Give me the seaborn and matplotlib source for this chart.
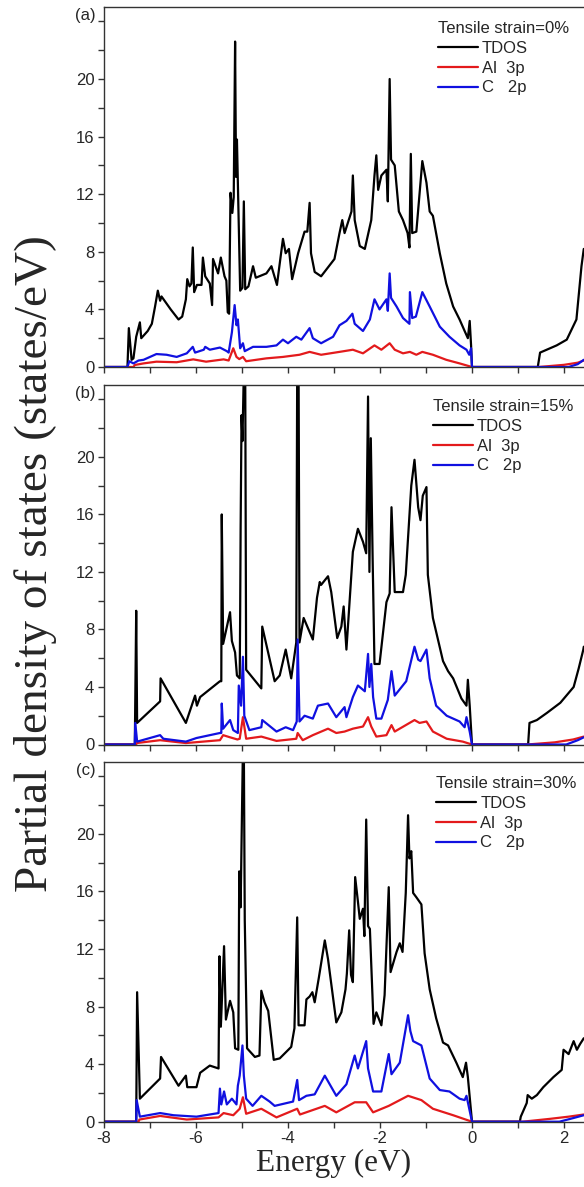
import numpy as np
import pandas as pd
import matplotlib
matplotlib.use("Agg")
import matplotlib.pyplot as plt
from matplotlib.ticker import MultipleLocator
import seaborn as sns

# Partielle Zustandsdichte fuer drei Dehnungen
strain_titles = ["Tensile strain=0%", "Tensile strain=15%", "Tensile strain=30%"]
panel_tags = ["(a)", "(b)", "(c)"]
series_labels = ["TDOS", "Al  3p", "C   2p"]

# ---- (a) 0 % ----
e_a_tdos = [-8.00, -7.49, -7.46, -7.40, -7.36, -7.30, -7.22, -7.19,
            -7.05, -6.96, -6.89, -6.83, -6.78, -6.75, -6.55, -6.38,
            -6.30, -6.22, -6.19, -6.14, -6.10, -6.07, -6.04, -5.98,
            -5.88, -5.85, -5.80, -5.70, -5.65, -5.63, -5.52, -5.46, -5.38,
            -5.34, -5.31, -5.28, -5.25, -5.21, -5.18, -5.15, -5.13, -5.11,
            -5.04, -4.99, -4.96, -4.93, -4.86, -4.76, -4.70, -4.47,
            -4.36, -4.24, -4.11, -4.05, -3.98, -3.91, -3.78, -3.64,
            -3.58, -3.53, -3.50, -3.42, -3.28, -2.99, -2.88, -2.82,
            -2.77, -2.62, -2.59, -2.55, -2.44, -2.33, -2.19, -2.12,
            -2.08, -2.04, -1.97, -1.86, -1.83, -1.79, -1.76, -1.68,
            -1.59, -1.50, -1.40, -1.36, -1.33, -1.30, -1.21, -1.08,
            -0.99, -0.92, -0.85, -0.70, -0.56, -0.41, -0.27, -0.16,
            -0.09, -0.05, -0.02, 0.00, 1.43, 1.48, 1.84, 2.06, 2.27, 2.38, 2.43]
a_tdos = [0, 0, 2.7, 0.5, 0.6, 2.1, 3.1, 2.0,
          2.5, 3.0, 4.2, 5.3, 4.6, 4.9, 4.0, 3.3,
          3.5, 4.7, 6.1, 5.6, 5.8, 8.3, 5.2, 5.7,
          5.7, 7.6, 6.3, 5.8, 4.3, 7.5, 6.5, 7.6, 6.3,
          6.0, 3.8, 3.7, 12.1, 10.7, 11.8, 22.6, 13.2, 15.8,
          5.3, 5.5, 11.5, 5.4, 5.6, 7.0, 6.2, 6.5,
          7.0, 5.7, 8.9, 7.9, 8.2, 6.1, 7.9, 9.4,
          9.4, 11.4, 7.9, 6.6, 6.3, 7.5, 9.3, 10.2,
          9.3, 10.8, 13.3, 10.2, 8.4, 8.2, 10.2, 13.3,
          14.7, 12.3, 13.3, 13.7, 11.5, 20.0, 14.4, 14.0,
          10.8, 10.2, 9.3, 8.3, 14.8, 9.3, 9.4, 14.3,
          12.8, 10.8, 10.5, 7.9, 5.8, 4.2, 3.3, 2.5,
          2.0, 3.2, 1.5, 0, 0, 1.0, 1.5, 1.9, 3.3, 7.0, 8.2]

e_a_al = [-8.00, -7.36, -7.33, -7.14, -6.86, -6.42, -6.06, -5.78,
          -5.40, -5.29, -5.19, -5.12, -5.06, -4.98, -4.91, -4.47,
          -4.11, -3.75, -3.53, -3.28, -2.88, -2.59, -2.37, -2.12,
          -1.97, -1.79, -1.68, -1.50, -1.35, -1.21, -1.08, -0.85,
          -0.56, -0.27, 0.00, 1.45, 2.00, 2.30, 2.43]
a_al = [0, 0, 0.14, 0.25, 0.37, 0.33, 0.53, 0.37,
        0.53, 0.45, 1.3, 0.7, 0.55, 0.7, 0.4, 0.6,
        0.7, 0.85, 1.05, 0.85, 1.05, 1.2, 0.95, 1.5,
        1.2, 1.65, 1.2, 0.95, 1.05, 0.85, 1.05, 0.85,
        0.5, 0.25, 0, 0, 0.15, 0.3, 0.45]

e_a_c = [-8.00, -7.49, -7.45, -7.36, -7.25, -7.14, -6.86, -6.64, -6.42,
         -6.20, -6.07, -6.02, -5.83, -5.80, -5.70, -5.48, -5.33, -5.29,
         -5.22, -5.16, -5.12, -5.09, -5.04, -4.98, -4.94, -4.76,
         -4.47, -4.25, -4.11, -4.00, -3.82, -3.71, -3.53, -3.46,
         -3.28, -3.02, -2.88, -2.73, -2.60, -2.55, -2.37, -2.22,
         -2.12, -2.01, -1.86, -1.83, -1.79, -1.76, -1.64, -1.50,
         -1.36, -1.35, -1.30, -1.22, -1.08, -0.92, -0.70, -0.49,
         -0.27, -0.12, -0.06, -0.02, 0.00, 2.10, 2.30, 2.43]
a_c = [0, 0, 0.4, 0.25, 0.45, 0.5, 0.9, 0.85, 0.7,
       0.95, 1.4, 1.0, 1.2, 1.4, 1.2, 1.35, 1.1, 1.0,
       2.4, 4.3, 2.9, 3.3, 1.3, 1.65, 1.1, 1.4,
       1.4, 1.5, 1.9, 1.65, 2.1, 1.9, 2.7, 2.0,
       1.65, 2.1, 2.9, 3.2, 3.7, 3.0, 2.5, 3.3,
       4.7, 4.0, 4.7, 3.9, 6.5, 4.8, 4.2, 3.4,
       3.0, 5.2, 3.4, 3.5, 5.2, 4.2, 2.8, 2.1,
       1.5, 1.2, 0.85, 1.3, 0, 0, 0.2, 0.5]

# ---- (b) 15 % ----
e_b_tdos = [-8.00, -7.33, -7.30, -7.28, -6.78, -6.77, -6.22, -6.02, -5.98, -5.91,
            -5.48, -5.45, -5.44, -5.41, -5.26, -5.22, -5.15, -5.11, -5.05,
            -5.04, -5.03, -5.01, -4.99, -4.96, -4.93, -4.91, -4.58, -4.56,
            -4.29, -4.18, -4.05, -3.93, -3.82, -3.80, -3.77, -3.75, -3.66,
            -3.46, -3.37, -3.31, -3.28, -3.13, -3.06, -2.93, -2.84, -2.79,
            -2.73, -2.59, -2.48, -2.37, -2.30, -2.26, -2.23, -2.20, -2.16,
            -2.12, -2.01, -1.86, -1.79, -1.75, -1.68, -1.50, -1.44, -1.32,
            -1.25, -1.17, -1.12, -1.07, -0.99, -0.96, -0.85, -0.63, -0.52,
            -0.41, -0.23, -0.12, -0.09, -0.05, 0.00, 1.22, 1.25, 1.41, 1.63,
            1.92, 2.21, 2.32, 2.42, 2.43]
b_tdos = [0, 0, 9.3, 1.5, 3.0, 4.6, 1.5, 3.4, 2.7, 3.3,
          4.4, 4.4, 16.0, 7.0, 9.2, 7.2, 6.4, 4.8, 4.6,
          9.1, 15.0, 22.9, 21.1, 26.0, 26.0, 5.2, 3.9, 8.2,
          4.4, 4.8, 6.6, 4.6, 7.1, 26.0, 26.0, 7.1, 8.8,
          7.3, 10.2, 11.3, 11.1, 11.7, 10.6, 7.4, 8.2, 9.6,
          6.6, 13.4, 15.0, 14.1, 13.3, 24.2, 12.0, 21.3, 12.9,
          5.6, 5.6, 9.9, 10.5, 16.5, 10.6, 10.6, 11.8, 18.0,
          19.8, 16.5, 15.6, 17.3, 17.9, 11.8, 8.8, 5.8, 5.1,
          4.6, 3.2, 2.7, 4.5, 2.7, 0, 0, 1.5, 1.7, 2.2,
          2.9, 4.0, 5.3, 6.6, 6.8]

e_b_al = [-8.00, -7.30, -7.29, -6.78, -6.22, -5.48, -5.41, -5.26, -5.10,
          -5.05, -4.98, -4.91, -4.58, -4.25, -3.82, -3.79, -3.68, -3.46,
          -3.13, -2.95, -2.77, -2.59, -2.37, -2.26, -2.19, -2.08, -1.86,
          -1.75, -1.68, -1.25, -1.14, -0.99, -0.85, -0.55, -0.20, 0.00,
          1.20, 1.80, 2.20, 2.43]
b_al = [0, 0, 0.1, 0.3, 0.1, 0.3, 0.65, 0.5, 0.35,
        0.4, 1.9, 0.4, 0.55, 0.25, 0.4, 0.8, 0.3, 0.65,
        1.1, 0.8, 0.9, 1.1, 1.25, 1.9, 1.25, 0.55, 0.65,
        1.35, 0.9, 1.7, 1.5, 1.6, 0.9, 0.4, 0.2, 0,
        0, 0.15, 0.35, 0.55]

e_b_c = [-8.00, -7.33, -7.32, -7.28, -6.78, -6.71, -6.22, -5.99, -5.48,
         -5.45, -5.44, -5.41, -5.26, -5.19, -5.09, -5.07, -5.02, -4.98,
         -4.95, -4.84, -4.58, -4.56, -4.25, -4.05, -3.89, -3.81, -3.79,
         -3.75, -3.64, -3.46, -3.35, -3.13, -2.95, -2.77, -2.73, -2.59,
         -2.48, -2.33, -2.26, -2.23, -2.19, -2.15, -2.08, -1.97, -1.83,
         -1.75, -1.68, -1.43, -1.25, -1.17, -1.12, -0.99, -0.92, -0.78,
         -0.55, -0.27, -0.16, -0.12, -0.05, 0.00, 2.05, 2.30, 2.43]
b_c = [0, 0, 1.5, 0.2, 0.65, 0.4, 0.2, 0.45, 0.8,
       0.8, 2.85, 1.1, 1.7, 1.0, 0.8, 4.1, 2.7, 6.1,
       2.0, 1.0, 1.2, 1.7, 0.9, 1.2, 1.0, 1.6, 7.3,
       1.6, 2.0, 1.8, 2.7, 2.85, 1.9, 2.6, 1.9, 3.3,
       4.1, 3.7, 6.3, 4.0, 5.6, 3.3, 1.8, 1.8, 3.1,
       5.1, 3.4, 4.4, 6.8, 5.9, 5.8, 6.6, 4.6, 2.7,
       2.0, 1.6, 1.2, 1.9, 0.9, 0, 0, 0.3, 0.5]

# ---- (c) 30 % ----
e_c_tdos = [-8.00, -7.30, -7.28, -7.22, -6.78, -6.76, -6.38, -6.22, -6.19,
            -5.99, -5.91, -5.70, -5.51, -5.49, -5.46, -5.39, -5.35, -5.26,
            -5.19, -5.15, -5.08, -5.06, -5.03, -5.00, -4.98, -4.96, -4.94,
            -4.89, -4.72, -4.62, -4.58, -4.51, -4.43, -4.31, -4.18, -3.93,
            -3.86, -3.80, -3.77, -3.64, -3.60, -3.53, -3.47, -3.42, -3.33,
            -3.20, -3.13, -2.95, -2.84, -2.75, -2.72, -2.67, -2.63, -2.59,
            -2.54, -2.48, -2.44, -2.37, -2.34, -2.30, -2.26, -2.22, -2.14,
            -2.08, -1.97, -1.90, -1.81, -1.77, -1.64, -1.57, -1.51, -1.44,
            -1.39, -1.36, -1.32, -1.28, -1.21, -1.10, -1.03, -0.92, -0.78,
            -0.63, -0.52, -0.34, -0.20, -0.13, -0.09, 0.00, 1.04, 1.06, 1.19,
            1.21, 1.30, 1.41, 1.55, 1.77, 1.95, 1.99, 2.10, 2.21, 2.28, 2.35, 2.43]
c_tdos = [0, 0, 9.0, 1.6, 3.0, 4.5, 2.5, 3.2, 2.4,
          2.4, 3.4, 3.9, 3.7, 11.5, 6.6, 12.2, 7.1, 8.4,
          7.6, 5.1, 5.0, 17.4, 14.9, 21.6, 26.0, 26.0, 14.0,
          5.1, 4.5, 4.6, 9.1, 8.3, 7.7, 4.3, 4.4, 5.2,
          6.5, 14.2, 6.7, 6.7, 8.5, 8.7, 9.0, 8.3, 10.0,
          12.6, 11.3, 6.9, 7.6, 9.2, 10.3, 13.3, 10.2, 9.7,
          17.0, 15.3, 14.1, 14.8, 12.9, 21.0, 13.6, 13.4, 6.8,
          7.6, 6.7, 8.8, 16.3, 10.4, 11.8, 12.4, 11.8, 15.9,
          21.3, 18.3, 18.8, 15.9, 15.6, 15.1, 11.7, 9.2, 7.2,
          5.5, 5.3, 4.1, 3.1, 4.1, 3.1, 0, 0, 0.35, 1.3,
          1.85, 1.6, 1.85, 2.4, 3.1, 3.6, 5.0, 4.7, 5.6, 5.0, 5.4, 5.8]

e_c_al = [-8.00, -7.25, -7.23, -6.78, -6.20, -5.51, -5.40, -5.19, -5.05,
          -4.98, -4.91, -4.58, -4.25, -3.80, -3.74, -3.20, -2.95, -2.55,
          -2.30, -2.15, -1.81, -1.39, -1.10, -0.85, -0.41, 0.00, 1.10,
          1.70, 2.10, 2.43]
c_al = [0, 0, 0.15, 0.4, 0.15, 0.3, 0.6, 0.45, 0.9,
        1.7, 0.55, 0.9, 0.3, 0.9, 0.5, 1.1, 0.65, 1.35,
        1.35, 0.65, 1.1, 1.8, 1.5, 0.9, 0.45, 0, 0,
        0.2, 0.35, 0.5]

e_c_c = [-8.00, -7.30, -7.29, -7.22, -6.78, -6.49, -5.99, -5.51, -5.48,
         -5.45, -5.39, -5.33, -5.22, -5.12, -5.09, -5.05, -4.99, -4.96,
         -4.91, -4.77, -4.58, -4.40, -4.29, -3.89, -3.80, -3.76, -3.60,
         -3.42, -3.20, -2.95, -2.73, -2.55, -2.48, -2.30, -2.26, -2.15,
         -1.97, -1.81, -1.75, -1.57, -1.39, -1.34, -1.28, -1.10, -0.92,
         -0.70, -0.49, -0.27, -0.16, -0.12, 0.00, 1.90, 2.20, 2.43]
c_c = [0, 0, 1.5, 0.35, 0.6, 0.45, 0.35, 0.6, 2.3,
       1.2, 2.1, 1.2, 1.6, 1.2, 2.5, 3.2, 5.3, 3.2,
       1.6, 1.1, 1.8, 1.4, 1.1, 1.4, 2.9, 1.5, 1.8,
       1.9, 3.2, 1.8, 2.6, 4.6, 3.7, 5.6, 3.7, 2.1,
       2.1, 4.7, 3.3, 4.1, 7.4, 6.3, 5.6, 5.3, 3.0,
       2.2, 2.1, 1.6, 1.5, 1.8, 0, 0, 0.25, 0.45]

panels = [
    [(e_a_tdos, a_tdos), (e_a_al, a_al), (e_a_c, a_c)],
    [(e_b_tdos, b_tdos), (e_b_al, b_al), (e_b_c, b_c)],
    [(e_c_tdos, c_tdos), (e_c_al, c_al), (e_c_c, c_c)],
]
line_colors = ["black", "#e31a1c", "#1010e0"]

sns.set_style("ticks")
plt.rcParams["font.family"] = ["Liberation Sans", "DejaVu Sans"]
plt.rcParams["axes.unicode_minus"] = False

fig = plt.figure(figsize=(5.84, 11.87), dpi=100)
H = 1187.0
W = 584.0
left = 104 / W
width = 1 - left
# Pixelgrenzen der drei Panels (oben, unten)
bounds = [(7, 367), (385, 744.5), (762, 1121.7)]
legend_x = [0.695, 0.685, 0.692]

for i, (top, bottom) in enumerate(bounds):
    ax = fig.add_axes([left, 1 - bottom / H, width, (bottom - top) / H])
    for (e, d), lab, col in zip(panels[i], series_labels, line_colors):
        assert len(e) == len(d)
        df = pd.DataFrame({"E": e, "DOS": d})
        sns.lineplot(data=df, x="E", y="DOS", ax=ax, color=col, lw=1.6,
                     label=lab, estimator=None, sort=False)
    ax.set_xlim(-8, -8 + (W - 104) / 46)
    ax.set_ylim(0, 25)
    ax.xaxis.set_major_locator(MultipleLocator(2))
    ax.xaxis.set_minor_locator(MultipleLocator(1))
    ax.set_yticks(np.arange(0, 25, 4))
    ax.set_yticklabels([str(v) if v < 24 else "" for v in range(0, 25, 4)])
    ax.yaxis.set_minor_locator(MultipleLocator(2))
    ax.tick_params(which="both", direction="out", length=4, width=1,
                   labelsize=12, pad=3, color="#333333")
    for s in ["top", "left", "bottom"]:
        ax.spines[s].set_color("#333333")
        ax.spines[s].set_linewidth(1.0)
    ax.spines["right"].set_visible(False)
    ax.set_xlabel("")
    ax.set_ylabel("")
    if i < 2:
        ax.tick_params(axis="x", labelbottom=False)
    ax.text(-0.018, 24.4, panel_tags[i], transform=ax.get_yaxis_transform(),
            ha="right", va="center", fontsize=12)
    ax.legend(title=strain_titles[i], loc="upper left",
              bbox_to_anchor=(legend_x[i], 0.96), frameon=False,
              borderaxespad=0, borderpad=0, handlelength=2.4,
              handletextpad=0.25, labelspacing=0.28, fontsize=12,
              title_fontsize=12, alignment="left")

fig.text(36 / W, 1 - 564 / H, "Partial density of states (states/eV)",
         rotation=90, ha="center", va="center", fontsize=34,
         family=["Liberation Serif", "DejaVu Serif"])
fig.text(334 / W, 1 - 1163 / H, "Energy (eV)", ha="center", va="center",
         fontsize=22.5, family=["Liberation Serif", "DejaVu Serif"])

fig.savefig("out.png", dpi=100)
